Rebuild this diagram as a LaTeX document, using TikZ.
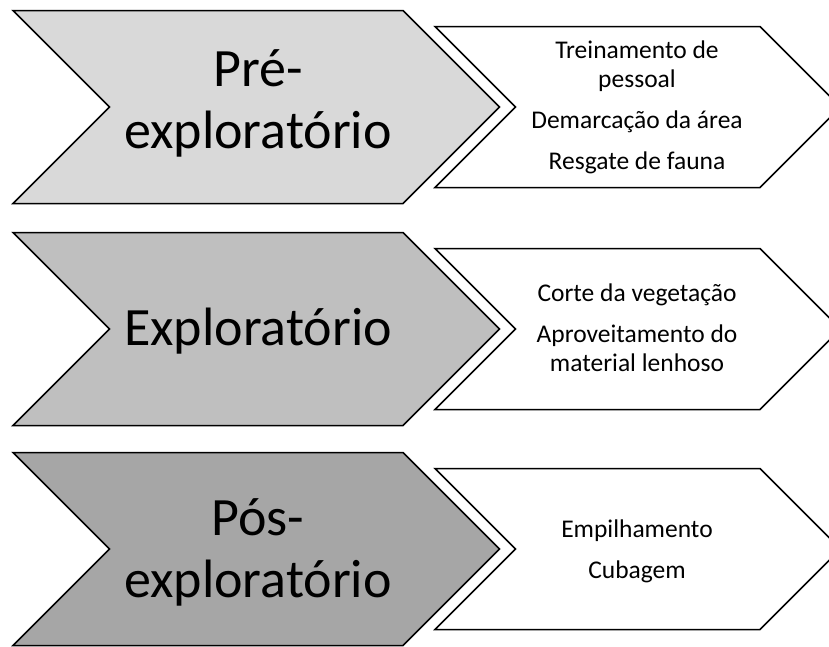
\documentclass[tikz,border=0pt]{standalone}
\usepackage{fontspec}
\setmainfont{Carlito}
\definecolor{phaseA}{HTML}{D9D9D9}
\definecolor{phaseB}{HTML}{BFBFBF}
\definecolor{phaseC}{HTML}{A6A6A6}
\begin{document}
\begin{tikzpicture}[x=1pt,y=-1pt,line width=1.5pt,line join=miter,
  phase/.style={draw=black,fill=#1},
  taskbox/.style={draw=black,fill=white},
  phasetext/.style={font=\fontsize{54}{62}\selectfont,align=center,anchor=base,inner sep=0pt},
  tasktext/.style={font=\fontsize{25.5}{29}\selectfont,align=center,anchor=base,inner sep=0pt}]
\useasboundingbox (0,0) rectangle (829,646);
\clip (0,0) rectangle (829,646);
\foreach \c/\col in {107/phaseA,329/phaseB,549/phaseC}{
  \draw[phase=\col] (13,{\c-96.5}) -- (403,{\c-96.5}) -- (499.5,\c) -- (403,{\c+96.5})
    -- (13,{\c+96.5}) -- (109.5,\c) -- cycle;
  \draw[taskbox] (435,{\c-80.5}) -- (760,{\c-80.5}) -- (840.5,\c) -- (760,{\c+80.5})
    -- (435,{\c+80.5}) -- (515.5,\c) -- cycle;
}
% anchor "base" of a multi-line node is the baseline of its last line
\node[phasetext] (p1) at (258,148) {Pré-\\exploratório};
\node[phasetext] (p2) at (258,345) {Exploratório};
\node[phasetext] (p3) at (258,597) {Pós-\\exploratório};
\node[tasktext] (t1) at (637,169) {Treinamento de\\pessoal\\[12pt]Demarcação da área\\[12pt]Resgate de fauna};
\node[tasktext] (t2) at (637,371) {Corte da vegetação\\[12pt]Aproveitamento do\\material lenhoso};
\node[tasktext] (t3) at (637,578) {Empilhamento\\[12pt]Cubagem};
\end{tikzpicture}
\end{document}
